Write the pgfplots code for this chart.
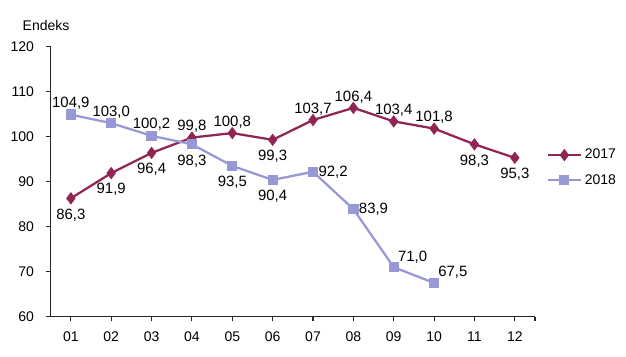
\documentclass[border=0pt]{standalone}
\usepackage{pgfplots}
\pgfplotsset{compat=1.18}
\usepackage{pgfplotstable}
\usepackage{fontspec}
\setmainfont{Liberation Sans}
\definecolor{cA}{RGB}{145,38,85}
\definecolor{cB}{RGB}{152,152,214}

\pgfplotstableread{
x y lab
1 86.3 86,3
2 91.9 91,9
3 96.4 96,4
4 99.8 99,8
5 100.8 100,8
6 99.3 99,3
7 103.7 103,7
8 106.4 106,4
9 103.4 103,4
10 101.8 101,8
11 98.3 98,3
12 95.3 95,3
}\dataA

\pgfplotstableread{
x y lab
1 104.9 104,9
2 103.0 103,0
3 100.2 100,2
4 98.3 98,3
5 93.5 93,5
6 90.4 90,4
7 92.2 92,2
8 83.9 83,9
9 71.0 71,0
10 67.5 67,5
}\dataB

\pgfplotsset{
  lbl/.style 2 args={draw=none, mark=none, forget plot, nodes near coords, point meta=explicit symbolic,
    every node near coord/.append style={anchor=#1, inner sep=3pt, font=\fontsize{11.2}{13}\selectfont, text=black, #2}},
}

\begin{document}
\begin{tikzpicture}
\begin{axis}[
  scale only axis,
  width=363.2pt, height=202.5pt,
  xmin=0.5, xmax=12.5,
  ymin=60, ymax=120,
  ytick={60,70,80,90,100,110,120},
  xtick={1,...,12},
  extra x ticks={12.5},
  extra x tick labels={},
  xticklabels={01,02,03,04,05,06,07,08,09,10,11,12},
  axis lines=left,
  axis line style={-, line width=0.8pt, black!85},
  tick style={line width=0.8pt, black!85},
  tick align=outside,
  major tick length=3.5pt,
  font=\fontsize{10.5}{12}\selectfont,
  /pgf/number format/assume math mode=true,
  yticklabel style={xshift=-5.5pt},
  xticklabel style={yshift=-4.5pt},
  clip=false,
  legend style={draw=none, fill=none, at={(1.015,0.552)}, anchor=west,
    font=\fontsize{10.5}{12}\selectfont, row sep=6pt,
    /tikz/every even column/.append style={column sep=2pt}},
  legend cell align=left,
  legend image code/.code={\draw[mark repeat=2,mark phase=2] plot coordinates {(0cm,0cm)(0.44cm,0cm)(0.88cm,0cm)};},
]
\addplot[cA, line width=1.7pt, mark=diamond*, mark size=3.3pt, mark options={solid}]
  table[x=x, y=y] {\dataA};
\addlegendentry{2017}
\addplot[cB, line width=1.7pt, mark=square*, mark size=3pt, mark options={solid}]
  table[x=x, y=y] {\dataB};
\addlegendentry{2018}
% value labels, 2017
\addplot[lbl={north}{yshift=-4.5pt}, x filter/.expression={(x==1||x==2||x==3||x==6||x==11||x==12) ? x : nan}]
  table[x=x, y=y, meta=lab] {\dataA};
\addplot[lbl={south}{yshift=0.5pt}, x filter/.expression={(x==4||x==5||x==7||x==8||x==9||x==10) ? x : nan}]
  table[x=x, y=y, meta=lab] {\dataA};
% value labels, 2018
\addplot[lbl={south}{yshift=0.5pt}, x filter/.expression={(x<=3) ? x : nan}]
  table[x=x, y=y, meta=lab] {\dataB};
\addplot[lbl={north}{yshift=-4.5pt}, x filter/.expression={(x>=4 && x<=6) ? x : nan}]
  table[x=x, y=y, meta=lab] {\dataB};
\addplot[lbl={west}{xshift=1pt}, x filter/.expression={(x==7||x==8) ? x : nan}]
  table[x=x, y=y, meta=lab] {\dataB};
\addplot[lbl={south west}{}, x filter/.expression={(x>=9) ? x : nan}]
  table[x=x, y=y, meta=lab] {\dataB};
\node[anchor=base west, font=\fontsize{10.5}{12}\selectfont] at ([xshift=-24.5pt, yshift=12.5pt]rel axis cs:0,1) {Endeks};
\end{axis}
\path (current axis.south west) ++(-38pt,-30pt) coordinate (bbA);
\path (current axis.north east) ++(68.25pt,35pt) coordinate (bbB);
\path[use as bounding box] (bbA) rectangle (bbB);
\end{tikzpicture}
\end{document}
